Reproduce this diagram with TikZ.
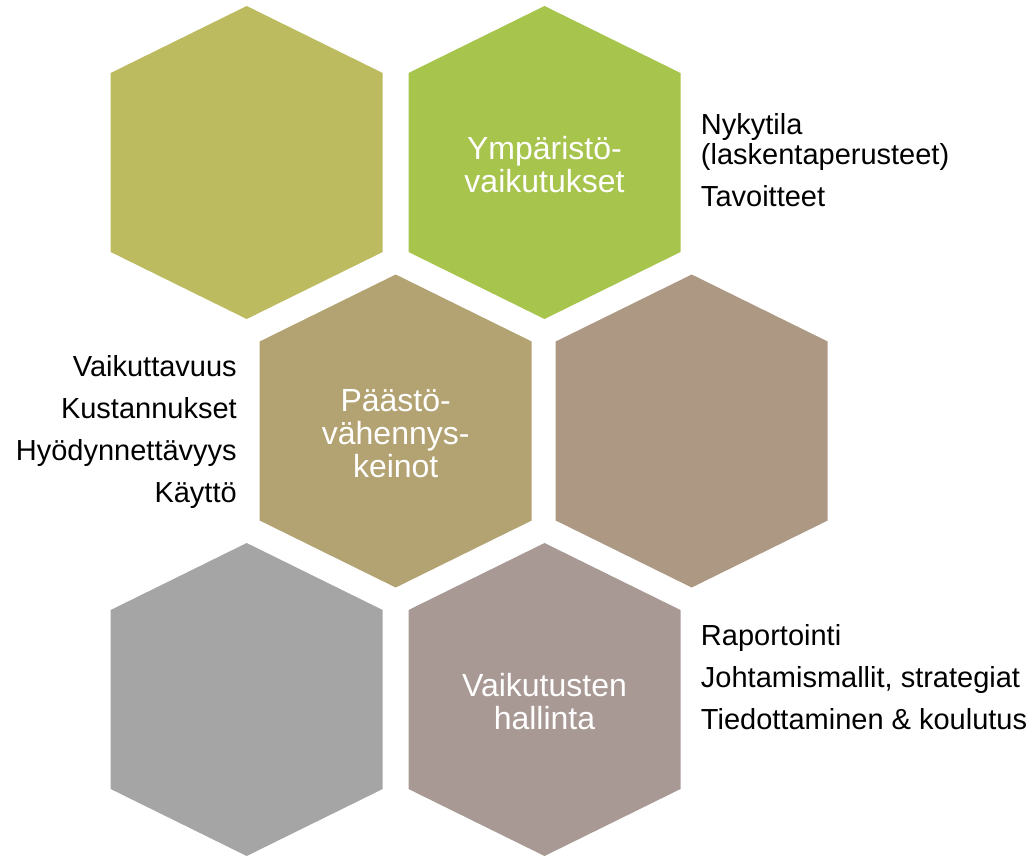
\documentclass[tikz,border=0pt]{standalone}
\usepackage{fontspec}
\setmainfont{Liberation Sans}
\usetikzlibrary{positioning}

\definecolor{hexolive}{HTML}{BDBB5F}
\definecolor{hexgreen}{HTML}{A7C44C}
\definecolor{hexkhaki}{HTML}{B3A272}
\definecolor{hexbrown}{HTML}{AD9884}
\definecolor{hexgrey}{HTML}{A5A5A5}
\definecolor{hexmauve}{HTML}{A99995}

\tikzset{
  hextext/.style={text=white, align=center, inner sep=0pt, font=\fontsize{24pt}{24.75pt}\selectfont},
  sidetext/.style={text=black, inner sep=0pt, font=\fontsize{21.75pt}{23pt}\selectfont},
}
\newcommand{\hexfill}[2]{\fill[#2] (#1) +(0,-156.5) -- +(136,-89.5) -- +(136,89.5) -- +(0,156.5) -- +(-136,89.5) -- +(-136,-89.5) -- cycle;}

\begin{document}
\begin{tikzpicture}[x=0.75pt, y=-0.75pt]
        \useasboundingbox (0,0) rectangle (1035,857);
        \coordinate (hexA) at (246.7,162.5);
        \coordinate (hexB) at (544.5,162.5);
        \coordinate (hexC) at (395.7,431);
        \coordinate (hexD) at (691.7,431);
        \coordinate (hexE) at (246.7,699.5);
        \coordinate (hexF) at (544.5,699.5);
        \hexfill{hexA}{hexolive}
        \hexfill{hexB}{hexgreen}
        \hexfill{hexC}{hexkhaki}
        \hexfill{hexD}{hexbrown}
        \hexfill{hexE}{hexgrey}
        \hexfill{hexF}{hexmauve}
        % texts in the hexagons
        \node (ymparisto) at ([yshift=-1.5]hexB) [hextext] {Ympäristö-\\vaikutukset};
        \node (paastot) at ([yshift=-2]hexC) [hextext] {Päästö-\\vähennys-\\keinot};
        \node (hallinta) at ([yshift=-1.5]hexF) [hextext] {Vaikutusten\\hallinta};
        % lists beside them
        \node (nykytila) at (700.7,113) [sidetext, anchor=north west, align=left] {Nykytila\\(laskentaperusteet)\\[8.5pt]Tavoitteet};
        \node (keinot) at (237,355) [sidetext, anchor=north east, align=right] {Vaikuttavuus\\[8.5pt]Kustannukset\\[8.5pt]Hyödynnettävyys\\[8.5pt]Käyttö};
        \node (raportointi) at (700.7,624) [sidetext, anchor=north west, align=left] {Raportointi\\[8.5pt]Johtamismallit, strategiat\\[8.5pt]Tiedottaminen \& koulutus};
    \end{tikzpicture}
\end{document}
